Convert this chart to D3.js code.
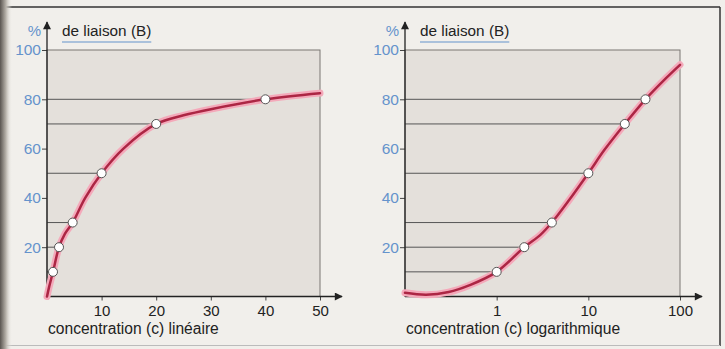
<!DOCTYPE html>
<html><head><meta charset="utf-8">
<script src="https://cdn.jsdelivr.net/npm/d3@7"></script>
<style>html,body{margin:0;padding:0;background:#f0eee9;}svg{display:block;}</style>
</head><body>
<svg id="c" width="725" height="349"></svg>
<script>
// ---- data ----
const yTicks = [20, 40, 60, 80, 100];
const yTitle = "de liaison (B)";
const yUnit = "%";

// left panel: linear concentration
const linTicks = [10, 20, 30, 40, 50];
const linTitle = "concentration (c) linéaire";
const linCurveC = [0, 0.4, 1.1, 2.2, 3.3, 4.7, 7, 10, 14, 20, 25, 30, 40, 50];
const linCurveB = [0, 4, 10, 20, 25.5, 30, 40, 50, 60, 70, 73.5, 76, 80, 82.5];
const linPointC = [1.1, 2.2, 4.7, 10, 20, 40];
const linPointB = [10, 20, 30, 50, 70, 80];

// right panel: logarithmic concentration
const logTicks = [1, 10, 100];
const logTitle = "concentration (c) logarithmique";
const logCurveC = [0.1, 0.17, 0.3, 0.5, 1, 2, 3, 4, 6, 10, 15, 25, 42, 70, 100];
const logCurveB = [1.5, 0.7, 1.8, 4.5, 10, 20, 25, 30, 38.5, 50, 59.5, 70, 80, 88.5, 94];
const logPointC = [1, 2, 4, 10, 25, 42];
const logPointB = [10, 20, 30, 50, 70, 80];

// ---- drawing ----
const svg = d3.select("#c");
const defs = svg.append("defs");
const g = defs.append("linearGradient").attr("id","bind").attr("x1",0).attr("x2",1);
g.append("stop").attr("offset",0).attr("stop-color","#5a5550");
g.append("stop").attr("offset",0.5).attr("stop-color","#b8b3ab");
g.append("stop").attr("offset",1).attr("stop-color","#f0eee9").attr("stop-opacity",0);
defs.append("marker").attr("id","arr").attr("viewBox","0 0 10 10").attr("refX",9).attr("refY",5)
  .attr("markerWidth",11).attr("markerHeight",8).attr("markerUnits","userSpaceOnUse").attr("orient","auto")
  .append("path").attr("d","M0,0L10,5L0,10Z").attr("fill","#222");

// page frame
svg.append("rect").attr("x",0).attr("y",0).attr("width",725).attr("height",349).attr("fill","#f1efeb");
svg.append("line").attr("x1",3).attr("x2",720).attr("y1",7).attr("y2",7).attr("stroke","#333").attr("stroke-width",1.5);
svg.append("line").attr("x1",720).attr("x2",720).attr("y1",7).attr("y2",346).attr("stroke","#333").attr("stroke-width",1.5);
svg.append("line").attr("x1",3).attr("x2",720).attr("y1",345.5).attr("y2",345.5).attr("stroke","#bbb").attr("stroke-width",1);
svg.append("line").attr("x1",3.5).attr("x2",3.5).attr("y1",7).attr("y2",346).attr("stroke","#333").attr("stroke-width",1.5);
svg.append("rect").attr("x",0).attr("y",0).attr("width",12).attr("height",349).attr("fill","url(#bind)");

const y = d3.scaleLinear().domain([0, 100]).range([296.5, 50]);
const blue = "#6593cc";
const font = "Liberation Sans, Arial, sans-serif";

function panel(x, ticks, tickFmt, title, cc, cb, pc, pb) {
  const [x0, x1] = x.range();
  const p = svg.append("g");
  p.append("rect").attr("x",x0).attr("y",y(100)).attr("width",x1-x0).attr("height",y(0)-y(100))
    .attr("fill","#e4e0db").attr("stroke","#7a7772").attr("stroke-width",1);
  // guide lines
  pc.forEach((c,i)=>{
    p.append("line").attr("x1",x0).attr("x2",x(c)).attr("y1",y(pb[i])).attr("y2",y(pb[i]))
      .attr("stroke","#555").attr("stroke-width",1);
  });
  // y axis
  const ya = p.append("g").attr("transform",`translate(${x0},0)`)
    .call(d3.axisLeft(y).tickValues(yTicks).tickSize(5).tickPadding(1));
  ya.select(".domain").remove();
  ya.selectAll("line").attr("stroke","#444");
  ya.selectAll("text").attr("fill",blue).attr("font-size",15.5).attr("font-family",font);
  p.append("line").attr("x1",x0).attr("x2",x0).attr("y1",y(0)).attr("y2",22)
    .attr("stroke","#222").attr("stroke-width",1.3).attr("marker-end","url(#arr)");
  // x axis
  const xa = p.append("g").attr("transform",`translate(0,${y(0)})`)
    .call(d3.axisBottom(x).tickValues(ticks).tickFormat(tickFmt).tickSize(4).tickPadding(5));
  xa.select(".domain").remove();
  xa.selectAll("line").attr("stroke","#444");
  xa.selectAll("text").attr("fill","#222").attr("font-size",15).attr("font-family",font);
  p.append("line").attr("x1",x0).attr("x2",x1+22).attr("y1",y(0)).attr("y2",y(0))
    .attr("stroke","#222").attr("stroke-width",1.3).attr("marker-end","url(#arr)");
  // titles
  p.append("text").attr("x",x0-6).attr("y",36).attr("text-anchor","end").attr("fill",blue)
    .attr("font-size",15).attr("font-family",font).text(yUnit);
  const t = p.append("text").attr("x",x0+15).attr("y",36).attr("fill","#222")
    .attr("font-size",15.3).attr("font-family",font).text(yTitle);
  const w = t.node().getComputedTextLength();
  p.append("line").attr("x1",x0+15).attr("x2",x0+15+w).attr("y1",42).attr("y2",42)
    .attr("stroke",blue).attr("stroke-width",1.2);
  p.append("text").attr("x",x0+1).attr("y",334).attr("fill","#222")
    .attr("font-size",15.6).attr("font-family",font).text(title);
  // curve
  const pts = cc.map((c,i)=>[c, cb[i]]);
  const line = d3.line().x(d=>x(d[0])).y(d=>y(d[1])).curve(d3.curveCatmullRom.alpha(0.5));
  p.append("path").attr("d",line(pts)).attr("fill","none").attr("stroke","#f4a9ba").attr("stroke-width",7).attr("stroke-linecap","round");
  p.append("path").attr("d",line(pts)).attr("fill","none").attr("stroke","#ac2644").attr("stroke-width",2.5).attr("stroke-linecap","round");
  // markers
  p.selectAll("circle.m").data(pc.map((c,i)=>[c,pb[i]])).join("circle").attr("class","m")
    .attr("cx",d=>x(d[0])).attr("cy",d=>y(d[1])).attr("r",4.5)
    .attr("fill","#fff").attr("stroke","#555").attr("stroke-width",1);
}

const xLin = d3.scaleLinear().domain([0, 50]).range([47, 320]);
panel(xLin, linTicks, d3.format("d"), linTitle, linCurveC, linCurveB, linPointC, linPointB);

const xLog = d3.scaleLog().domain([0.1, 100]).range([405, 680]);
panel(xLog, logTicks, d3.format("d"), logTitle, logCurveC, logCurveB, logPointC, logPointB);
</script>
</body></html>
